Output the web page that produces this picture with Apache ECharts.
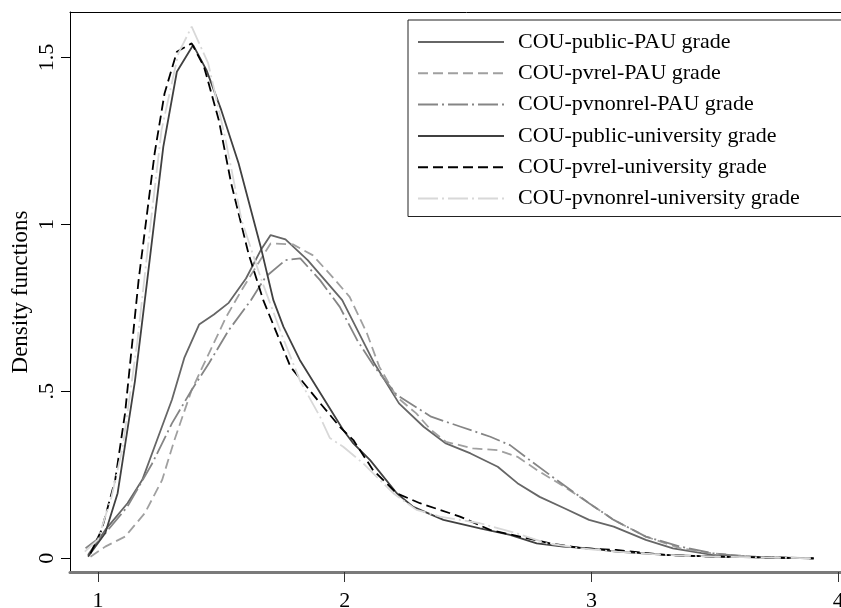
<!DOCTYPE html>
<html>
<head>
<meta charset="utf-8">
<script src="https://cdn.jsdelivr.net/npm/echarts@6/dist/echarts.min.js"></script>
<style>
  html, body { margin: 0; padding: 0; background: #fff; overflow: hidden; }
  #main { width: 920px; height: 608px; }
</style>
</head>
<body>
<div id="main"></div>
<script>
// density estimates, [grade, density]
var pubPAU = [[0.96,0.01],[1.03,0.085],[1.12,0.165],[1.18,0.235],[1.24,0.355],[1.30,0.475],[1.35,0.60],[1.41,0.70],[1.47,0.73],[1.53,0.765],[1.60,0.838],[1.66,0.923],[1.70,0.968],[1.76,0.955],[1.85,0.893],[1.99,0.773],[2.12,0.584],[2.22,0.464],[2.32,0.394],[2.41,0.344],[2.51,0.314],[2.62,0.274],[2.70,0.225],[2.79,0.184],[2.89,0.15],[2.99,0.115],[3.09,0.095],[3.22,0.055],[3.33,0.03],[3.49,0.01],[3.70,0.003],[3.90,0]];
var pvrelPAU = [[0.97,0.005],[1.03,0.035],[1.11,0.065],[1.19,0.135],[1.26,0.234],[1.31,0.354],[1.38,0.504],[1.45,0.614],[1.52,0.723],[1.58,0.80],[1.63,0.86],[1.70,0.943],[1.79,0.94],[1.87,0.908],[1.95,0.843],[2.02,0.783],[2.09,0.674],[2.14,0.574],[2.21,0.484],[2.29,0.434],[2.35,0.384],[2.41,0.349],[2.52,0.329],[2.62,0.324],[2.70,0.304],[2.78,0.264],[2.89,0.214],[2.99,0.165],[3.09,0.115],[3.22,0.065],[3.36,0.03],[3.49,0.015],[3.65,0.005],[3.90,0]];
var pvnonrelPAU = [[0.95,0.03],[1.03,0.075],[1.12,0.155],[1.22,0.284],[1.30,0.404],[1.38,0.504],[1.45,0.584],[1.53,0.683],[1.62,0.773],[1.68,0.843],[1.76,0.893],[1.82,0.898],[1.90,0.833],[1.98,0.753],[2.05,0.654],[2.12,0.574],[2.21,0.49],[2.35,0.424],[2.47,0.394],[2.59,0.364],[2.67,0.339],[2.75,0.294],[2.86,0.234],[2.99,0.165],[3.09,0.115],[3.22,0.065],[3.36,0.035],[3.49,0.015],[3.63,0.005],[3.90,0]];
var pubUniv = [[0.96,0.005],[1.03,0.076],[1.08,0.195],[1.15,0.53],[1.20,0.833],[1.265,1.232],[1.32,1.457],[1.386,1.537],[1.44,1.462],[1.50,1.342],[1.57,1.183],[1.663,0.923],[1.711,0.773],[1.752,0.693],[1.818,0.594],[1.994,0.384],[2.035,0.344],[2.103,0.294],[2.211,0.195],[2.278,0.154],[2.40,0.115],[2.548,0.09],[2.67,0.07],[2.778,0.045],[2.886,0.035],[2.993,0.03],[3.10,0.02],[3.30,0.01],[3.50,0.005],[3.90,0]];
var pvrelUniv = [[0.97,0.015],[1.015,0.085],[1.07,0.234],[1.11,0.434],[1.165,0.833],[1.23,1.213],[1.27,1.392],[1.32,1.517],[1.38,1.542],[1.43,1.472],[1.49,1.312],[1.54,1.123],[1.61,0.913],[1.67,0.773],[1.78,0.574],[1.89,0.474],[1.98,0.394],[2.035,0.354],[2.115,0.264],[2.21,0.195],[2.305,0.165],[2.467,0.125],[2.589,0.085],[2.71,0.065],[2.832,0.045],[2.966,0.03],[3.10,0.025],[3.30,0.01],[3.50,0.005],[3.90,0]];
var pvnonrelUniv = [[0.947,0.02],[1.0,0.055],[1.055,0.184],[1.10,0.33],[1.16,0.65],[1.21,0.98],[1.258,1.283],[1.326,1.512],[1.38,1.592],[1.447,1.482],[1.515,1.262],[1.582,1.013],[1.663,0.833],[1.75,0.66],[1.82,0.53],[1.90,0.424],[1.94,0.36],[1.994,0.334],[2.075,0.284],[2.197,0.195],[2.291,0.145],[2.386,0.125],[2.548,0.105],[2.697,0.075],[2.818,0.045],[2.954,0.03],[3.10,0.02],[3.30,0.01],[3.50,0.005],[3.90,0]];

var seriesNames = ['COU-public-PAU grade','COU-pvrel-PAU grade','COU-pvnonrel-PAU grade','COU-public-university grade','COU-pvrel-university grade','COU-pvnonrel-university grade'];
var seriesData = [pubPAU, pvrelPAU, pvnonrelPAU, pubUniv, pvrelUniv, pvnonrelUniv];
var xTicks = [1, 2, 3, 4];
var yTicks = [0, 0.5, 1, 1.5];

var colors = ['#666666', '#a0a0a0', '#858585', '#404040', '#000000', '#d8d8d8'];
var dashes = ['solid', [10, 5], [20, 4, 2, 4], 'solid', [10, 5], [20, 4, 2, 4]];
var serif = '"Liberation Serif", "Times New Roman", serif';

// plot runs past the right edge of the window, like the cropped original
var myChart = echarts.init(document.getElementById('main'));
myChart.setOption({
  animation: false,
  textStyle: { fontFamily: serif },
  grid: { left: 70, top: 12, bottom: 36, right: 57, outerBoundsMode: 'none', containLabel: false },
  legend: {
    orient: 'vertical',
    left: 408, top: 20,
    padding: [11, 90, 7, 9],
    borderColor: '#222', borderWidth: 1,
    itemWidth: 86, itemHeight: 14, itemGap: 9.3,
    selectedMode: false,
    itemStyle: { opacity: 0, borderWidth: 0 },
    textStyle: { fontFamily: serif, fontSize: 22, color: '#000', lineHeight: 22, padding: [0, 0, 0, 9] },
    data: seriesNames
  },
  xAxis: [{
    type: 'value', min: 0.887, max: 4.1,
    axisLine: { onZero: false, lineStyle: { color: '#7a7a7a', width: 3 } },
    axisTick: { length: 10, lineStyle: { color: '#333' }, customValues: xTicks },
    axisLabel: { fontSize: 22, color: '#000', fontFamily: serif, margin: 18, customValues: xTicks },
    splitLine: { show: false }
  }, {
    type: 'value', position: 'top', min: 0.887, max: 4.1,
    axisLine: { show: true, onZero: false, lineStyle: { color: '#000', width: 1 } },
    axisTick: { show: false }, axisLabel: { show: false }, splitLine: { show: false }
  }],
  yAxis: {
    type: 'value', min: -0.041, max: 1.636,
    name: 'Density functions', nameLocation: 'middle', nameGap: 38, nameMoveOverlap: false,
    nameTextStyle: { fontSize: 23, color: '#000', fontFamily: serif },
    axisLine: { show: true, onZero: false, lineStyle: { color: '#000', width: 1 } },
    axisTick: { length: 9, lineStyle: { color: '#000' }, customValues: yTicks },
    axisLabel: {
      rotate: 90, fontSize: 22, color: '#000', fontFamily: serif, margin: 12,
      customValues: yTicks,
      formatter: function (v) { return v === 0 ? '0' : String(v).replace(/^0/, ''); }
    },
    splitLine: { show: false }
  },
  series: seriesNames.map(function (name, i) {
    return {
      name: name, type: 'line', data: seriesData[i],
      xAxisIndex: 0, symbol: 'none', smooth: false,
      itemStyle: { color: colors[i] },
      lineStyle: { color: colors[i], width: 1.8, type: dashes[i] }
    };
  })
});
</script>
</body>
</html>
